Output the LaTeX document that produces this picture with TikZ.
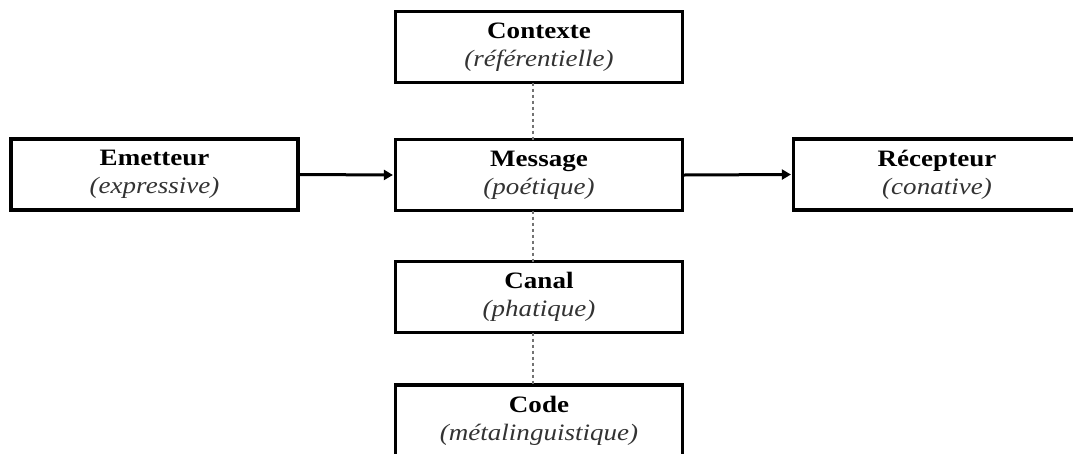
\documentclass[tikz,border=0pt]{standalone}
\usepackage{fontspec}
\setmainfont[FakeStretch=1.15]{Liberation Serif}
\usetikzlibrary{arrows.meta}
\tikzset{
  fbox/.style={draw=black, line width=3.2pt, rectangle, minimum width=287pt, minimum height=71pt,
    inner sep=0pt, align=center, font=\fontsize{23.5}{28}\selectfont, fill=white},
  link/.style={draw=black!55, line width=1.5pt, dash pattern=on 3pt off 3pt},
  flow/.style={draw=black, line width=3pt, -{Triangle[length=9pt,width=10pt]}, shorten >=1pt}
}
\newcommand{\lbl}[2]{\textbf{#1}\\{\color{black!80}\textit{#2}}}
\begin{document}
\begin{tikzpicture}[x=1pt,y=-1pt]
\useasboundingbox (0,0) rectangle (1073,453);
\node[fbox] (ctx) at (539,47) {\lbl{Contexte}{(référentielle)}};
\node[fbox] (emet) at (154.5,174.5) {\lbl{Emetteur}{(expressive)}};
\node[fbox] (msg) at (539,175) {\lbl{Message}{(poétique)}};
\node[fbox] (rec) at (937,174.5) {\lbl{Récepteur}{(conative)}};
\node[fbox] (can) at (539,297) {\lbl{Canal}{(phatique)}};
\node[fbox] (code) at (539,420.5) {\lbl{Code}{(métalinguistique)}};
\draw[link] ([xshift=-6pt,yshift=1.6pt]ctx.south) -- ([xshift=-6pt,yshift=-1.6pt]msg.north);
\draw[link] ([xshift=-6pt,yshift=1.6pt]msg.south) -- ([xshift=-6pt,yshift=-1.6pt]can.north);
\draw[link] ([xshift=-6pt,yshift=1.6pt]can.south) -- ([xshift=-6pt,yshift=-1.6pt]code.north);
\draw[flow] (emet.east) -- (msg.west);
\draw[flow] (msg.east) -- (rec.west);
\end{tikzpicture}
\end{document}
